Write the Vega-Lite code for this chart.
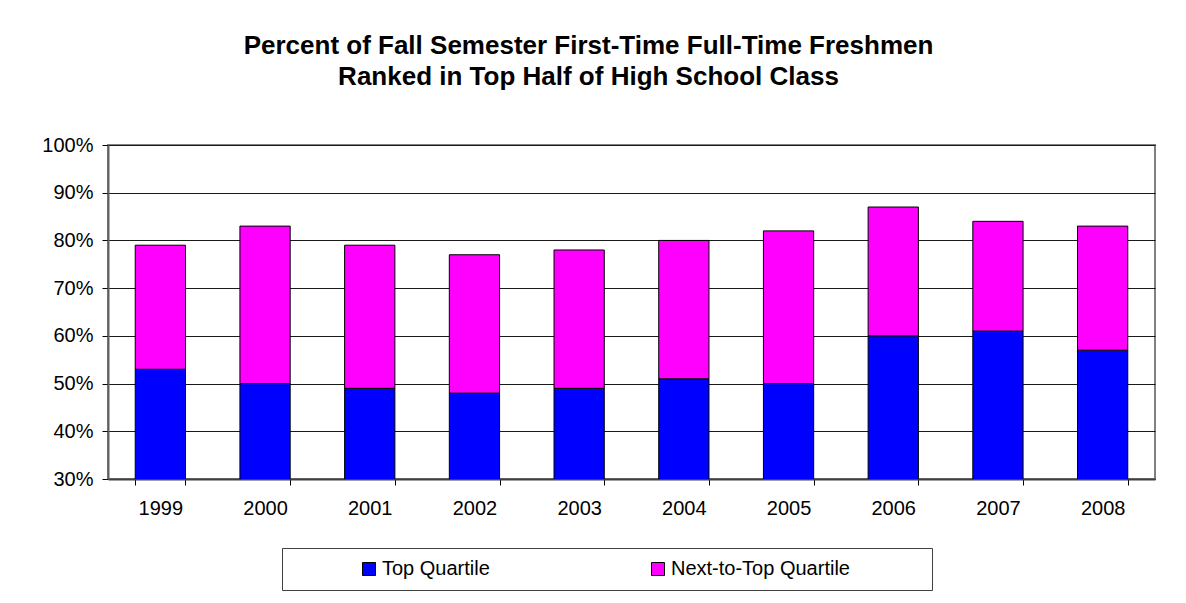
{
  "$schema": "https://vega.github.io/schema/vega-lite/v6.json",
  "autosize": {"type": "none"},
  "width": 1047,
  "height": 334,
  "padding": {"left": 108, "top": 145, "right": 31, "bottom": 124},
  "background": "white",
  "title": {
    "text": ["Percent of Fall Semester First-Time Full-Time Freshmen", "Ranked in Top Half of High School Class"],
    "font": "Liberation Sans",
    "fontSize": 26,
    "fontWeight": "bold",
    "color": "black",
    "lineHeight": 31,
    "anchor": "middle",
    "frame": "group",
    "dx": -43,
    "offset": 45
  },
  "data": {
    "values": [
      {"year": "1999", "series": "Top Quartile", "k": 1, "pct": 53},
      {"year": "1999", "series": "Next-to-Top Quartile", "k": 2, "pct": 26},
      {"year": "2000", "series": "Top Quartile", "k": 1, "pct": 50},
      {"year": "2000", "series": "Next-to-Top Quartile", "k": 2, "pct": 33},
      {"year": "2001", "series": "Top Quartile", "k": 1, "pct": 49},
      {"year": "2001", "series": "Next-to-Top Quartile", "k": 2, "pct": 30},
      {"year": "2002", "series": "Top Quartile", "k": 1, "pct": 48},
      {"year": "2002", "series": "Next-to-Top Quartile", "k": 2, "pct": 29},
      {"year": "2003", "series": "Top Quartile", "k": 1, "pct": 49},
      {"year": "2003", "series": "Next-to-Top Quartile", "k": 2, "pct": 29},
      {"year": "2004", "series": "Top Quartile", "k": 1, "pct": 51},
      {"year": "2004", "series": "Next-to-Top Quartile", "k": 2, "pct": 29},
      {"year": "2005", "series": "Top Quartile", "k": 1, "pct": 50},
      {"year": "2005", "series": "Next-to-Top Quartile", "k": 2, "pct": 32},
      {"year": "2006", "series": "Top Quartile", "k": 1, "pct": 60},
      {"year": "2006", "series": "Next-to-Top Quartile", "k": 2, "pct": 27},
      {"year": "2007", "series": "Top Quartile", "k": 1, "pct": 61},
      {"year": "2007", "series": "Next-to-Top Quartile", "k": 2, "pct": 23},
      {"year": "2008", "series": "Top Quartile", "k": 1, "pct": 57},
      {"year": "2008", "series": "Next-to-Top Quartile", "k": 2, "pct": 26}
    ]
  },
  "mark": {"type": "bar", "stroke": "black", "strokeWidth": 1, "clip": true},
  "encoding": {
    "x": {
      "field": "year",
      "type": "nominal",
      "scale": {"paddingInner": 0.52, "paddingOuter": 0.26},
      "axis": {
        "title": null,
        "labelAngle": 0,
        "labelFont": "Liberation Sans",
        "labelFontSize": 20,
        "labelColor": "black",
        "labelPadding": 13,
        "tickBand": "extent",
        "tickColor": "black",
        "tickSize": 6,
        "domainColor": "#404040",
        "domainWidth": 2,
        "grid": false
      }
    },
    "y": {
      "field": "pct",
      "type": "quantitative",
      "stack": "zero",
      "scale": {"domain": [30, 100], "nice": false, "zero": false},
      "axis": {
        "title": null,
        "values": [30, 40, 50, 60, 70, 80, 90, 100],
        "labelExpr": "datum.value + '%'",
        "labelFont": "Liberation Sans",
        "labelFontSize": 20,
        "labelColor": "black",
        "labelPadding": 9,
        "tickColor": "black",
        "tickSize": 6,
        "domainColor": "#606060",
        "domainWidth": 2,
        "grid": true,
        "gridColor": "#1a1a1a",
        "gridWidth": 1,
        "gridOpacity": 1
      }
    },
    "color": {
      "field": "series",
      "type": "nominal",
      "scale": {"domain": ["Top Quartile", "Next-to-Top Quartile"], "range": ["#0000FF", "#FF00FF"]},
      "legend": {
        "title": "\u00a0",
        "titleOrient": "right",
        "titlePadding": 71,
        "titleFontSize": 20,
        "orient": "none",
        "direction": "horizontal",
        "legendX": 174,
        "legendY": 403,
        "padding": 11,
        "symbolOffset": 66,
        "strokeColor": "#404040",
        "fillColor": "white",
        "symbolType": "square",
        "symbolSize": 169,
        "symbolStrokeColor": "black",
        "symbolStrokeWidth": 1,
        "labelFont": "Liberation Sans",
        "labelFontSize": 20,
        "labelColor": "black",
        "labelOffset": 3,
        "columnPadding": 92,
        "labelLimit": 400
      }
    },
    "order": {"field": "k", "type": "quantitative", "sort": "ascending"}
  },
  "config": {
    "view": {"stroke": "#808080", "strokeWidth": 2},
    "axis": {"gridDash": []}
  }
}
